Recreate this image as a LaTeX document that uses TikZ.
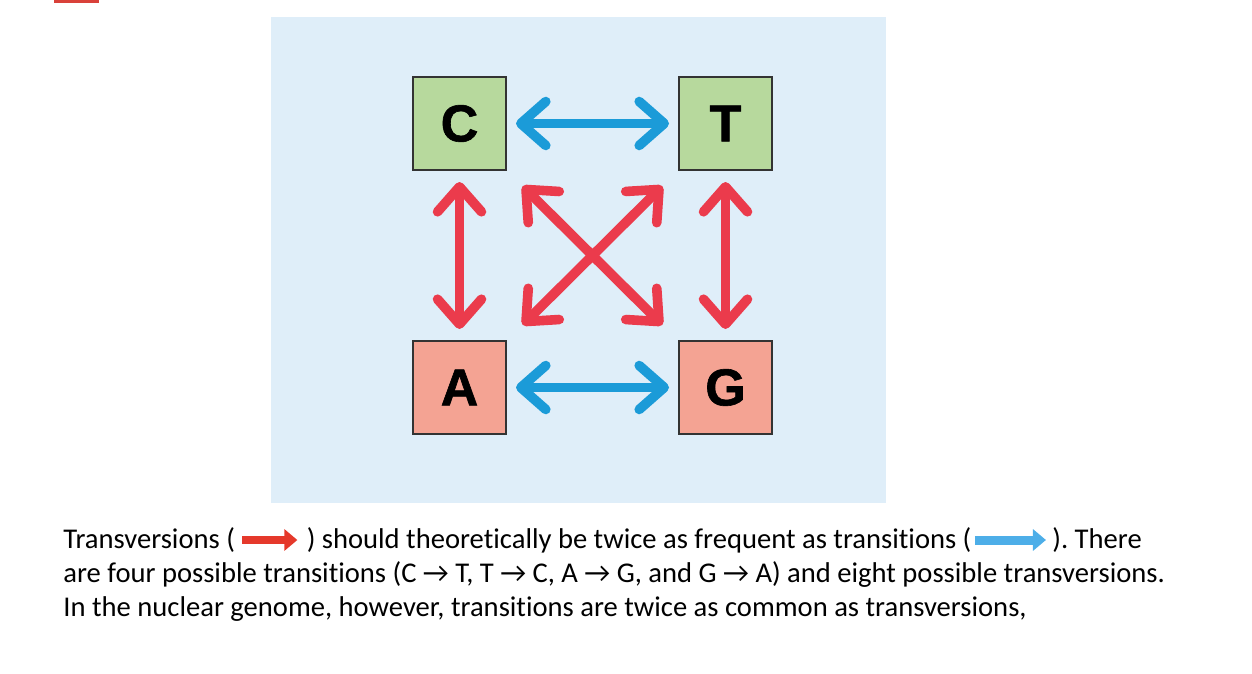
\documentclass[tikz,border=0pt]{standalone}
\usepackage{fontspec}
\setmainfont{Carlito}[Ligatures=NoCommon]
\newfontfamily\boxfont{Liberation Sans Bold}[FakeBold=1.2]
\usetikzlibrary{positioning, arrows.meta, calc}
\definecolor{panelblue}{HTML}{DFEEF9}
\definecolor{boxgreen}{HTML}{B7D99D}
\definecolor{boxred}{HTML}{F4A393}
\definecolor{boxline}{HTML}{333333}
\definecolor{tvblue}{HTML}{1B9BD8}
\definecolor{tsred}{HTML}{EB3B4C}
\definecolor{keyred}{HTML}{E5392B}
\definecolor{keyblue}{HTML}{4DAEE8}
\definecolor{topbar}{HTML}{D9413A}
\frenchspacing

\begin{document}
\begin{tikzpicture}[x=0.5pt, y=-0.5pt,
          base/.style={draw=boxline, line width=1pt, minimum size=46.5pt, inner sep=0pt, font=\boxfont\fontsize{26}{26}\selectfont},
          twoway/.style={line width=4.8pt, {Straight Barb[length=12.5pt, width=22pt, round]}-{Straight Barb[length=12.5pt, width=22pt, round]}},
          transition/.style={twoway, tvblue, shorten <=4.5pt, shorten >=4.5pt},
          transversion/.style={twoway, tsred},
          keyarrow/.style={line width=4pt, -{Triangle[length=6.5pt, width=10.5pt]}},
          txt/.style={anchor=base west, inner sep=0pt, font=\fontsize{14.3}{17}\selectfont}]
        \useasboundingbox (0,0) rectangle (1252,674);
        \fill[topbar] (54,0) rectangle (99,3);
        \fill[panelblue] (271,17) rectangle (886,503);
        \node[base, fill=boxgreen] (C) at (459.5,123.5) {C};
        \node[base, fill=boxgreen, right=85.5pt of C] (T) {T};
        \node[base, fill=boxred, below=84.5pt of C] (A) {A};
        \node[base, fill=boxred, right=85.5pt of A] (G) {G};
        \draw[transition] (C) -- (T);
        \draw[transition] (A) -- (G);
        \draw[transversion, shorten <=5.5pt, shorten >=5.5pt] (C) -- (A);
        \draw[transversion, shorten <=5.5pt, shorten >=5.5pt] (T) -- (G);
        \draw[transversion, shorten <=11pt, shorten >=11pt] (C) -- (G);
        \draw[transversion, shorten <=11pt, shorten >=11pt] (A) -- (T);
        % caption text
        \node[txt] (l1a) at (63,548) {Transversions (};
        \coordinate (ra) at ($(l1a.base east)+(7,-8)$);
        \coordinate (rb) at ($(ra)+(55,0)$);
        \draw[keyarrow, keyred] (ra) -- (rb);
        \node[txt] (l1b) at ($(rb)+(9,8)$) {) should theoretically be twice as frequent as transitions (};
        \coordinate (ba) at ($(l1b.base east)+(3,-8)$);
        \coordinate (bb) at ($(ba)+(71,0)$);
        \draw[keyarrow, keyblue, line width=4.5pt] (ba) -- (bb);
        \node[txt] (l1c) at ($(bb)+(6,8)$) {). There};
        \node[txt] (l2) at (63,582) {are four possible transitions (C → T, T → C, A → G, and G → A) and eight possible transversions.};
        \node[txt] (l3) at (63,616) {In the nuclear genome, however, transitions are twice as common as transversions,};
      \end{tikzpicture}
\end{document}
